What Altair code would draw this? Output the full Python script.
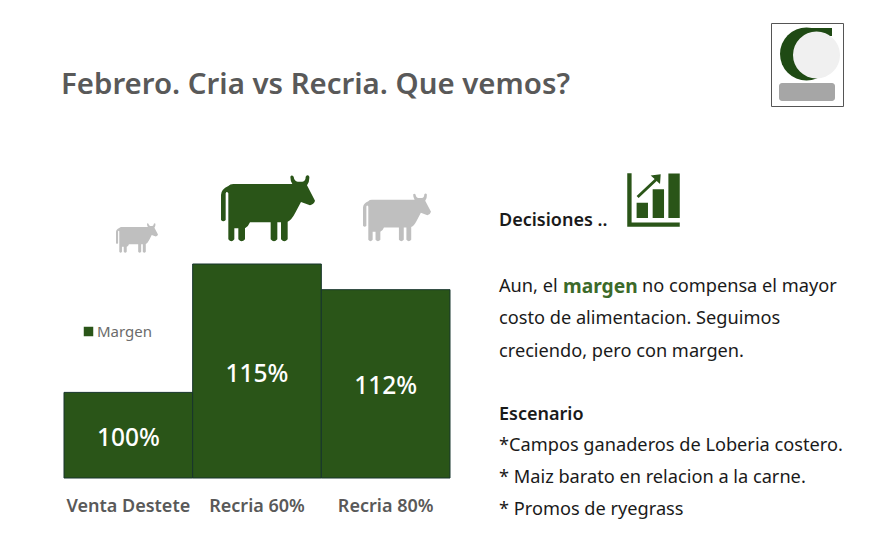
import re
import altair as alt
import pandas as pd

categorias = ["Venta Destete", "Recria 60%", "Recria 80%"]
margen = [100, 115, 112]
etiquetas = ["100%", "115%", "112%"]
serie = ["Margen", "Margen", "Margen"]

titulo = "Febrero. Cria vs Recria. Que vemos?"
decisiones = "Decisiones .."
texto_1 = ["Aun, el", "margen", "no compensa el mayor"]
texto_2 = ["costo de alimentacion. Seguimos", "creciendo, pero con margen."]
escenario = "Escenario"
escenario_lineas = [
    "*Campos ganaderos de Loberia costero.",
    "* Maiz barato en relacion a la carne.",
    "* Promos de ryegrass",
]

FONT = "Noto Sans"
GREEN = "#2a5518"
COW_GREY = "#bfbfbf"
OX, OY = 64, 264  # reference position of plot origin
PW, PH = 386, 214
BASE = 90


def px(x):
    return x - OX


def py(y):
    return y - OY


def norm_path(d, cx, cy, half):
    i = [0]

    def rep(m):
        v = float(m.group(0))
        c = cx if i[0] % 2 == 0 else cy
        i[0] += 1
        return f"{(v - c) / half:.4f}"

    return re.sub(r"-?\d+(?:\.\d+)?", rep, d)


COW = norm_path(
    "M 18 75 Q 18 58 40 48 Q 45 42 55 42 L 232 42 Q 226 32 226 20 Q 230 13 236 20 "
    "Q 238 34 248 35 L 262 35 Q 272 34 272 20 Q 278 12 283 20 Q 284 36 276 46 "
    "L 300 92 Q 298 102 285 106 L 258 96 L 240 130 Q 230 150 218 155 L 218 208 "
    "Q 208 220 198 208 L 198 157 L 187 157 L 187 208 Q 177 220 167 208 L 167 157 "
    "L 105 157 Q 100 170 90 175 L 90 208 Q 80 220 70 208 L 70 175 L 58 175 L 58 208 "
    "Q 49 220 40 208 L 40 70 Q 35 62 32 70 L 32 150 Q 25 158 18 150 Z",
    159, 115.5, 141,
)

ICON = norm_path(
    "M 413 40 L 426 40 L 426 187 L 570 187 L 570 200 L 413 200 Z "
    "M 441 128 L 475 128 L 475 174 L 441 174 Z "
    "M 489 88 L 523 88 L 523 174 L 489 174 Z "
    "M 536 41 L 570 41 L 570 174 L 536 174 Z "
    "M 441 108 L 495 57 L 483 47 L 513 43 L 511 72 L 501 63 L 447 114 Z",
    491.5, 120, 78.5,
)


def text(s, x, y, size, color="#1a1a1a", weight="normal", align="left"):
    return (
        alt.Chart(pd.DataFrame({"t": [s]}))
        .mark_text(font=FONT, fontSize=size, color=color, fontWeight=weight,
                   align=align, baseline="middle")
        .encode(x=alt.value(px(x)), y=alt.value(py(y)), text="t:N")
    )


def icon(path, x, y, width, color):
    return (
        alt.Chart(pd.DataFrame({"a": [1]}))
        .mark_point(shape=path, size=width * width, filled=True, fill=color,
                    opacity=1, strokeWidth=0)
        .encode(x=alt.value(px(x)), y=alt.value(py(y)))
    )


def box(x1, y1, x2, y2, **kw):
    return (
        alt.Chart(pd.DataFrame({"a": [1]}))
        .mark_rect(**kw)
        .encode(x=alt.value(px(x1)), x2=alt.value(px(x2)),
                y=alt.value(py(y1)), y2=alt.value(py(y2)))
    )


def disc(x, y, r, color):
    return (
        alt.Chart(pd.DataFrame({"a": [1]}))
        .mark_circle(size=4 * r * r, color=color, opacity=1)
        .encode(x=alt.value(px(x)), y=alt.value(py(y)))
    )


df = pd.DataFrame({"cat": categorias, "margen": margen, "label": etiquetas, "serie": serie})

x_enc = alt.X(
    "cat:N",
    sort=categorias,
    title=None,
    scale=alt.Scale(paddingInner=0, paddingOuter=0),
    axis=alt.Axis(domain=False, ticks=False, labelAngle=0, labelFont=FONT, labelFontSize=18,
                  labelFontWeight=600, labelColor="#595959", labelPadding=28,
                  labelBaseline="middle"),
)
y_scale = alt.Scale(domain=[BASE, 115], nice=False, zero=False)

bars = (
    alt.Chart(df)
    .mark_bar(stroke="#17352c", strokeWidth=1)
    .encode(
        x=x_enc,
        y=alt.Y("margen:Q", scale=y_scale, axis=None),
        y2=alt.datum(BASE),
        color=alt.Color(
            "serie:N",
            scale=alt.Scale(range=[GREEN]),
            legend=alt.Legend(orient="none", legendX=px(81), legendY=py(324), title=None,
                              symbolType="square", symbolSize=90, labelFont=FONT, labelOffset=1,
                              labelFontSize=15, labelColor="#6b6b6b", symbolStrokeWidth=0),
        ),
    )
)

bar_labels = (
    alt.Chart(df)
    .transform_calculate(mid=f"(datum.margen + {BASE}) / 2")
    .mark_text(font=FONT, fontSize=24.5, color="white", fontWeight=500, baseline="middle", dy=3.5)
    .encode(x=alt.X("cat:N", sort=categorias, title=None),
            y=alt.Y("mid:Q", scale=y_scale, axis=None),
            text="label:N")
)

BODY = 18.2
layers = [
    bars,
    bar_labels,
    text(titulo, 61, 85, 29.4, "#595959", 600),
    icon(COW, 137, 238, 42, COW_GREY),
    icon(COW, 268, 208.5, 94, GREEN),
    icon(COW, 397, 217.5, 68, COW_GREY),
    icon(ICON, 653.5, 200, 52.5, GREEN),
    text(decisiones, 499, 221, 18, "#1a1a1a", 600),
    text(texto_1[0], 499, 287, BODY),
    text(texto_1[1], 563, 287, 19.2, "#3c6a2a", 700),
    text(texto_1[2], 642, 287, BODY),
    text(texto_2[0], 499, 319, BODY),
    text(texto_2[1], 499, 352, BODY),
    text(escenario, 499, 415, 18, "#1a1a1a", 600),
    text(escenario_lineas[0], 499, 446, BODY),
    text(escenario_lineas[1], 499, 478, BODY),
    text(escenario_lineas[2], 499, 510, BODY),
    box(771.5, 23.5, 843.5, 106.5, fill="white", stroke="#555555", strokeWidth=1),
    disc(806.5, 54, 26.5, "#1f4a14"),
    box(806, 28, 832, 36, fill="#1f4a14"),
    disc(816.5, 55, 23.5, "#f0f0f0"),
    box(779, 83, 835, 101, fill="#a6a6a6", cornerRadius=3),
]

chart = (
    alt.layer(*layers)
    .resolve_scale(x="shared", y="shared", color="independent")
    .properties(
        width=PW,
        height=PH,
        padding={"left": OX - 8, "top": OY - 8, "right": 854 - (OX - 8) - PW, "bottom": 541 - (OY - 8) - PH},
        autosize=alt.AutoSizeParams(type="none"),
        background="white",
    )
    .configure_view(stroke=None)
)

chart.save("out.html", embed_options={"renderer": "svg", "actions": False})
